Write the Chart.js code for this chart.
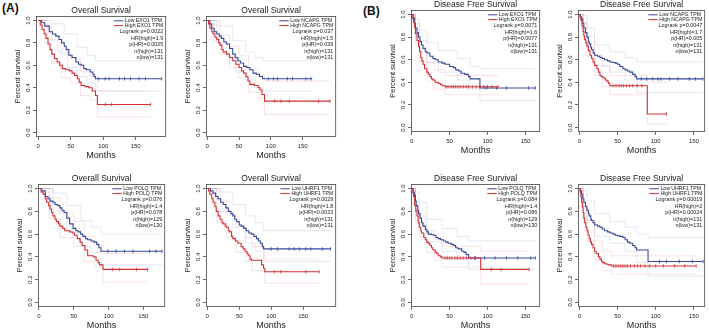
<!DOCTYPE html>
<html>
<head>
<meta charset="utf-8">
<script src="https://cdn.jsdelivr.net/npm/chart.js@4.4.1/dist/chart.umd.min.js"></script>
<style>
  body { margin: 0; width: 709px; height: 329px; background: #fff; position: relative; overflow: hidden; }
  canvas { position: absolute; }
  .tag { position: absolute; font: bold 12px "Liberation Sans", Arial, sans-serif; color: #111; }
</style>
</head>
<body>
<div class="tag" style="left:2px;top:1px">(A)</div>
<div class="tag" style="left:363px;top:4px">(B)</div>
<script>
// ---- axis ticks ----
const xTicks = [0, 50, 100, 150];
const xTickLabels = ['0', '50', '100', '150'];
const yTicks = [0, 0.2, 0.4, 0.6, 0.8, 1.0];
const yTickLabels = ['0.0', '0.2', '0.4', '0.6', '0.8', '1.0'];

// ---- (A) Overall survival, EXO1 ----
const exo1OsLow = [[0,1],[5,0.98],[10,0.95],[17,0.90],[22,0.88],[27,0.86],[32,0.83],[36,0.80],[40,0.77],[43,0.74],[47,0.69],[52,0.67],[58,0.63],[62,0.61],[66,0.60],[70,0.57],[74,0.56],[80,0.54],[84,0.52],[86,0.50],[88,0.48],[190,0.48]];
const exo1OsHigh = [[0,1],[3,0.96],[6,0.92],[9,0.88],[12,0.84],[15,0.79],[18,0.74],[21,0.70],[25,0.66],[29,0.63],[33,0.60],[37,0.57],[42,0.56],[48,0.55],[52,0.53],[56,0.51],[60,0.48],[63,0.45],[66,0.42],[72,0.41],[78,0.40],[83,0.37],[88,0.33],[91,0.25],[173,0.25]];
const exo1OsLowCens = [93,103,109,125,133,142,155,165,190];
const exo1OsHighCens = [103,113,173];
const exo1OsLowUp = [[0,1],[20,0.97],[40,0.88],[60,0.76],[75,0.69],[88,0.64],[190,0.64]];
const exo1OsLowDn = [[0,1],[15,0.82],[30,0.72],[45,0.58],[60,0.50],[75,0.44],[88,0.37],[190,0.37]];
const exo1OsHighUp = [[0,1],[10,0.96],[20,0.83],[35,0.70],[50,0.66],[65,0.54],[80,0.50],[91,0.37],[173,0.37]];
const exo1OsHighDn = [[0,1],[10,0.80],[20,0.62],[35,0.49],[50,0.44],[65,0.33],[80,0.29],[91,0.14],[173,0.14]];
const exo1OsLegend = ['Low EXO1 TPM', 'High EXO1 TPM'];
const exo1OsStats = ['Logrank p=0.0022', 'HR(high)=1.9', 'p(HR)=0.0025', 'n(high)=131', 'n(low)=131'];

// ---- (A) Overall survival, NCAPG ----
const ncapgOsLow = [[0,1],[4,0.97],[7,0.93],[11,0.90],[15,0.88],[19,0.86],[22,0.84],[26,0.81],[30,0.79],[35,0.75],[40,0.70],[44,0.67],[48,0.64],[52,0.62],[57,0.59],[62,0.58],[67,0.56],[72,0.53],[77,0.52],[82,0.50],[87,0.48],[165,0.48]];
const ncapgOsHigh = [[0,1],[2,0.97],[4,0.93],[7,0.90],[9,0.88],[12,0.85],[15,0.83],[18,0.80],[20,0.78],[23,0.74],[25,0.72],[30,0.70],[35,0.67],[40,0.64],[45,0.61],[50,0.58],[54,0.55],[57,0.53],[61,0.50],[64,0.46],[67,0.43],[74,0.42],[80,0.40],[83,0.38],[86,0.34],[90,0.28],[193,0.28]];
const ncapgOsLowCens = [96,104,110,126,134,155,163];
const ncapgOsHighCens = [106,116,129,175,193];
const ncapgOsLowUp = [[0,1],[20,0.95],[40,0.82],[60,0.72],[75,0.67],[88,0.64],[165,0.64]];
const ncapgOsLowDn = [[0,1],[15,0.80],[30,0.68],[45,0.54],[60,0.47],[75,0.40],[88,0.37],[165,0.37]];
const ncapgOsHighUp = [[0,1],[10,0.96],[20,0.87],[35,0.77],[50,0.69],[65,0.56],[80,0.51],[90,0.46],[193,0.46]];
const ncapgOsHighDn = [[0,1],[10,0.82],[20,0.70],[35,0.58],[50,0.49],[65,0.36],[80,0.31],[90,0.16],[193,0.16]];
const ncapgOsLegend = ['Low NCAPG TPM', 'High NCAPG TPM'];
const ncapgOsStats = ['Logrank p=0.037', 'HR(high)=1.5', 'p(HR)=0.039', 'n(high)=131', 'n(low)=131'];

// ---- (A) Overall survival, POLQ ----
const polqOsLow = [[0,1],[4,0.98],[9,0.93],[13,0.91],[16,0.89],[20,0.88],[23,0.86],[27,0.85],[30,0.83],[33,0.81],[36,0.79],[40,0.74],[44,0.69],[49,0.65],[53,0.63],[56,0.62],[60,0.60],[63,0.58],[67,0.56],[70,0.55],[75,0.54],[79,0.53],[83,0.51],[86,0.48],[89,0.45],[177,0.45]];
const polqOsHigh = [[0,1],[3,0.97],[6,0.95],[9,0.91],[11,0.88],[14,0.85],[16,0.82],[18,0.79],[20,0.76],[23,0.73],[25,0.71],[28,0.69],[30,0.67],[34,0.65],[37,0.63],[44,0.62],[48,0.61],[51,0.59],[55,0.56],[59,0.53],[62,0.50],[66,0.46],[70,0.41],[78,0.40],[82,0.37],[85,0.35],[87,0.33],[92,0.29],[156,0.29]];
const polqOsLowCens = [99,111,123,135,159,168,177];
const polqOsHighCens = [106,116,140,156];
const polqOsLowUp = [[0,1],[20,0.96],[40,0.85],[60,0.72],[75,0.66],[89,0.60],[177,0.60]];
const polqOsLowDn = [[0,1],[20,0.80],[40,0.64],[60,0.49],[75,0.44],[89,0.33],[177,0.33]];
const polqOsHighUp = [[0,1],[15,0.92],[30,0.78],[50,0.71],[65,0.58],[80,0.50],[92,0.43],[156,0.43]];
const polqOsHighDn = [[0,1],[15,0.74],[30,0.57],[50,0.49],[65,0.36],[80,0.31],[92,0.18],[156,0.18]];
const polqOsLegend = ['Low POLQ TPM', 'High POLQ TPM'];
const polqOsStats = ['Logrank p=0.076', 'HR(high)=1.4', 'p(HR)=0.078', 'n(high)=129', 'n(low)=130'];

// ---- (A) Overall survival, UHRF1 ----
const uhrf1OsLow = [[0,1],[5,0.98],[9,0.96],[13,0.93],[17,0.91],[21,0.88],[25,0.86],[29,0.83],[33,0.80],[37,0.78],[40,0.76],[43,0.73],[46,0.71],[50,0.68],[53,0.67],[57,0.65],[61,0.63],[65,0.61],[69,0.60],[73,0.58],[77,0.56],[80,0.54],[83,0.52],[86,0.49],[88,0.47],[193,0.47]];
const uhrf1OsHigh = [[0,1],[2,0.98],[4,0.95],[7,0.91],[9,0.88],[12,0.84],[14,0.80],[17,0.76],[20,0.73],[23,0.70],[25,0.69],[28,0.67],[30,0.66],[33,0.63],[35,0.62],[38,0.58],[40,0.56],[44,0.54],[48,0.52],[53,0.49],[56,0.47],[59,0.45],[62,0.43],[64,0.41],[67,0.38],[69,0.37],[82,0.37],[85,0.33],[88,0.30],[90,0.27],[175,0.27]];
const uhrf1OsLowCens = [100,110,128,136,144,154,162,180,193];
const uhrf1OsHighCens = [105,115,154,175];
const uhrf1OsLowUp = [[0,1],[20,0.97],[40,0.86],[60,0.76],[75,0.70],[88,0.63],[193,0.63]];
const uhrf1OsLowDn = [[0,1],[20,0.80],[40,0.66],[60,0.52],[75,0.45],[88,0.36],[193,0.36]];
const uhrf1OsHighUp = [[0,1],[15,0.90],[30,0.77],[45,0.67],[60,0.57],[70,0.49],[90,0.38],[175,0.38]];
const uhrf1OsHighDn = [[0,1],[15,0.71],[30,0.57],[45,0.44],[60,0.36],[70,0.28],[90,0.17],[175,0.17]];
const uhrf1OsLegend = ['Low UHRF1 TPM', 'High UHRF1 TPM'];
const uhrf1OsStats = ['Logrank p=0.0029', 'HR(high)=1.8', 'p(HR)=0.0033', 'n(high)=131', 'n(low)=131'];

// ---- (B) Disease free survival, EXO1 ----
const exo1DfsLow = [[0,1],[2,0.97],[3.5,0.92],[5,0.88],[7,0.84],[9,0.80],[11,0.76],[13,0.73],[15,0.70],[18,0.67],[20,0.66],[24,0.63],[28,0.61],[31,0.60],[35,0.58],[40,0.57],[44,0.56],[50,0.54],[55,0.53],[58,0.51],[62,0.50],[65,0.48],[70,0.47],[75,0.45],[77,0.43],[89,0.43],[90,0.35],[163,0.35]];
const exo1DfsHigh = [[0,1],[1.5,0.96],[2.6,0.93],[4,0.88],[5,0.83],[7,0.77],[9,0.72],[10.5,0.67],[12,0.62],[13.5,0.59],[15,0.56],[17,0.52],[20,0.49],[22,0.47],[24,0.45],[26,0.43],[28,0.42],[31,0.40],[35,0.39],[38,0.38],[40,0.37],[44,0.36],[114,0.36]];
const exo1DfsLowCens = [98,112,125,154,163];
const exo1DfsHighCens = [45,48,52,55,58,61,64,68,72,75,80,85,90,95,100,106,114];
const exo1DfsLowUp = [[0,1],[5,0.96],[10,0.86],[20,0.75],[35,0.68],[60,0.61],[77,0.54],[90,0.52],[163,0.52]];
const exo1DfsLowDn = [[0,1],[5,0.80],[10,0.67],[20,0.57],[35,0.49],[60,0.42],[77,0.34],[90,0.24],[163,0.24]];
const exo1DfsHighUp = [[0,1],[5,0.92],[10,0.77],[20,0.58],[30,0.51],[44,0.46],[114,0.46]];
const exo1DfsHighDn = [[0,1],[5,0.75],[10,0.58],[20,0.41],[30,0.34],[44,0.29],[114,0.29]];
const exo1DfsLegend = ['Low EXO1 TPM', 'High EXO1 TPM'];
const exo1DfsStats = ['Logrank p=0.0071', 'HR(high)=1.6', 'p(HR)=0.0077', 'n(high)=131', 'n(low)=131'];

// ---- (B) Disease free survival, NCAPG ----
const ncapgDfsLow = [[0,1],[1.5,0.98],[3,0.96],[4.5,0.92],[6,0.88],[8,0.84],[10,0.80],[12,0.76],[13,0.74],[15,0.71],[16,0.69],[18,0.66],[20,0.64],[24,0.63],[27,0.62],[30,0.61],[33,0.60],[37,0.59],[40,0.58],[44,0.575],[47,0.57],[50,0.56],[53,0.54],[57,0.52],[60,0.51],[63,0.50],[66,0.49],[70,0.47],[73,0.45],[75,0.43],[162,0.43]];
const ncapgDfsHigh = [[0,1],[1,0.97],[2,0.95],[3.5,0.90],[5,0.85],[6,0.81],[7,0.78],[8.5,0.75],[10,0.72],[12,0.68],[14,0.64],[16,0.61],[18,0.58],[20,0.55],[23,0.52],[25,0.49],[27,0.46],[29,0.45],[31,0.44],[34,0.42],[36,0.41],[38,0.39],[40,0.37],[88,0.37],[89,0.12],[114,0.12]];
const ncapgDfsLowCens = [81,88,96,103,107,118,129,144,152,162];
const ncapgDfsHighCens = [44,48,52,55,58,62,66,70,76,82,114];
const ncapgDfsLowUp = [[0,1],[5,0.99],[10,0.88],[20,0.73],[40,0.67],[60,0.62],[75,0.58],[162,0.58]];
const ncapgDfsLowDn = [[0,1],[5,0.84],[10,0.71],[20,0.55],[40,0.49],[60,0.42],[75,0.31],[162,0.31]];
const ncapgDfsHighUp = [[0,1],[5,0.93],[10,0.81],[20,0.64],[30,0.54],[40,0.46],[88,0.46],[89,0.40],[114,0.40]];
const ncapgDfsHighDn = [[0,1],[5,0.77],[10,0.63],[20,0.46],[30,0.36],[40,0.29],[88,0.29],[89,0.03],[114,0.03]];
const ncapgDfsLegend = ['Low NCAPG TPM', 'High NCAPG TPM'];
const ncapgDfsStats = ['Logrank p=0.0047', 'HR(high)=1.7', 'p(HR)=0.005', 'n(high)=131', 'n(low)=131'];

// ---- (B) Disease free survival, POLQ ----
const polqDfsLow = [[0,1],[2,0.97],[3.5,0.94],[5,0.89],[6,0.85],[8,0.81],[9,0.78],[11,0.74],[13,0.70],[15,0.67],[18,0.64],[20,0.62],[22,0.60],[26,0.595],[29,0.59],[32,0.57],[35,0.56],[38,0.55],[42,0.54],[45,0.53],[48,0.52],[52,0.51],[55,0.50],[58,0.48],[61,0.47],[66,0.45],[69,0.44],[72,0.42],[75,0.39],[163,0.39]];
const polqDfsHigh = [[0,1],[1.5,0.96],[2.6,0.93],[4,0.85],[5.5,0.80],[7,0.76],[8.5,0.70],[10,0.66],[12,0.63],[13,0.61],[16,0.57],[18,0.55],[20,0.53],[22,0.52],[24,0.50],[26,0.48],[28,0.46],[31,0.44],[33,0.43],[35,0.41],[38,0.40],[40,0.39],[90,0.39],[91,0.29],[155,0.29]];
const polqDfsLowCens = [83,96,110,125,140,157,163];
const polqDfsHighCens = [44,47,50,53,57,60,64,68,72,78,84,105,118,155];
const polqDfsLowUp = [[0,1],[5,0.97],[10,0.88],[20,0.73],[40,0.65],[60,0.58],[75,0.54],[163,0.54]];
const polqDfsLowDn = [[0,1],[5,0.80],[10,0.68],[20,0.53],[40,0.45],[60,0.38],[75,0.29],[163,0.29]];
const polqDfsHighUp = [[0,1],[5,0.90],[10,0.76],[20,0.63],[30,0.55],[40,0.49],[90,0.49],[91,0.45],[155,0.45]];
const polqDfsHighDn = [[0,1],[5,0.72],[10,0.57],[20,0.44],[30,0.37],[40,0.31],[90,0.31],[91,0.16],[155,0.16]];
const polqDfsLegend = ['Low POLQ TPM', 'High POLQ TPM'];
const polqDfsStats = ['Logrank p=0.084', 'HR(high)=1.4', 'p(HR)=0.086', 'n(high)=129', 'n(low)=130'];

// ---- (B) Disease free survival, UHRF1 ----
const uhrf1DfsLow = [[0,1],[1.5,0.98],[3,0.95],[4.5,0.91],[6,0.88],[8,0.84],[10,0.81],[12,0.78],[13,0.76],[15,0.73],[16,0.72],[18,0.70],[20,0.68],[24,0.67],[27,0.66],[30,0.645],[33,0.63],[37,0.62],[40,0.61],[44,0.60],[47,0.59],[50,0.585],[53,0.58],[57,0.57],[60,0.55],[63,0.53],[66,0.52],[70,0.50],[73,0.48],[75,0.46],[89,0.46],[90,0.36],[162,0.36]];
const uhrf1DfsHigh = [[0,1],[1,0.97],[2,0.93],[3,0.88],[4,0.84],[5,0.79],[6,0.74],[7,0.70],[8.5,0.66],[10,0.63],[11.5,0.59],[13,0.56],[14.5,0.53],[16,0.51],[18,0.48],[20,0.45],[22,0.43],[25,0.40],[27,0.38],[29,0.36],[31,0.35],[33,0.34],[36,0.335],[38,0.33],[42,0.32],[153,0.32]];
const uhrf1DfsLowCens = [105,114,131,148,162];
const uhrf1DfsHighCens = [45,48,51,54,57,60,63,67,72,76,80,86,92,100,110,125,138,153];
const uhrf1DfsLowUp = [[0,1],[5,0.98],[10,0.89],[20,0.78],[40,0.71],[60,0.66],[75,0.60],[90,0.57],[162,0.57]];
const uhrf1DfsLowDn = [[0,1],[5,0.84],[10,0.72],[20,0.58],[40,0.52],[60,0.45],[75,0.35],[90,0.23],[162,0.23]];
const uhrf1DfsHighUp = [[0,1],[5,0.88],[10,0.72],[20,0.54],[30,0.45],[42,0.41],[153,0.41]];
const uhrf1DfsHighDn = [[0,1],[5,0.70],[10,0.54],[20,0.37],[30,0.28],[42,0.25],[153,0.25]];
const uhrf1DfsLegend = ['Low UHRF1 TPM', 'High UHRF1 TPM'];
const uhrf1DfsStats = ['Logrank p=0.00019', 'HR(high)=2', 'p(HR)=0.00024', 'n(high)=131', 'n(low)=131'];

const FONT = '"Liberation Sans", Arial, sans-serif';
const BLUE = '#34499c';
const RED = '#d42f33';
const BLUE_CI = 'rgba(130,150,210,0.32)';
const RED_CI = 'rgba(240,120,130,0.32)';

// box = [left, top, right, bottom] of the plot frame on the page
const panels = [
  {id: 'a1', title: 'Overall Survival', low: exo1OsLow, high: exo1OsHigh, lowCens: exo1OsLowCens, highCens: exo1OsHighCens,
   ci: [exo1OsLowUp, exo1OsLowDn, exo1OsHighUp, exo1OsHighDn], legend: exo1OsLegend, stats: exo1OsStats, box: [36, 16, 167, 137], xr: [-3.5, 197]},
  {id: 'a2', title: 'Overall Survival', low: ncapgOsLow, high: ncapgOsHigh, lowCens: ncapgOsLowCens, highCens: ncapgOsHighCens,
   ci: [ncapgOsLowUp, ncapgOsLowDn, ncapgOsHighUp, ncapgOsHighDn], legend: ncapgOsLegend, stats: ncapgOsStats, box: [206, 16, 337, 137], xr: [-2, 202.7]},
  {id: 'b1', title: 'Disease Free Survival', low: exo1DfsLow, high: exo1DfsHigh, lowCens: exo1DfsLowCens, highCens: exo1DfsHighCens,
   ci: [exo1DfsLowUp, exo1DfsLowDn, exo1DfsHighUp, exo1DfsHighDn], legend: exo1DfsLegend, stats: exo1DfsStats, box: [411, 10, 541, 132], xr: [-0.9, 169.5]},
  {id: 'b2', title: 'Disease Free Survival', low: ncapgDfsLow, high: ncapgDfsHigh, lowCens: ncapgDfsLowCens, highCens: ncapgDfsHighCens,
   ci: [ncapgDfsLowUp, ncapgDfsLowDn, ncapgDfsHighUp, ncapgDfsHighDn], legend: ncapgDfsLegend, stats: ncapgDfsStats, box: [578, 10, 706, 132], xr: [-1.7, 164.8]},
  {id: 'a3', title: 'Overall Survival', low: polqOsLow, high: polqOsHigh, lowCens: polqOsLowCens, highCens: polqOsHighCens,
   ci: [polqOsLowUp, polqOsLowDn, polqOsHighUp, polqOsHighDn], legend: polqOsLegend, stats: polqOsStats, box: [38, 184, 166, 307], xr: [-1.4, 181.4]},
  {id: 'a4', title: 'Overall Survival', low: uhrf1OsLow, high: uhrf1OsHigh, lowCens: uhrf1OsLowCens, highCens: uhrf1OsHighCens,
   ci: [uhrf1OsLowUp, uhrf1OsLowDn, uhrf1OsHighUp, uhrf1OsHighDn], legend: uhrf1OsLegend, stats: uhrf1OsStats, box: [206, 184, 337, 307], xr: [-2, 201.7]},
  {id: 'b3', title: 'Disease Free Survival', low: polqDfsLow, high: polqDfsHigh, lowCens: polqDfsLowCens, highCens: polqDfsHighCens,
   ci: [polqDfsLowUp, polqDfsLowDn, polqDfsHighUp, polqDfsHighDn], legend: polqDfsLegend, stats: polqDfsStats, box: [411, 184, 541, 307], xr: [-0.9, 169.5]},
  {id: 'b4', title: 'Disease Free Survival', low: uhrf1DfsLow, high: uhrf1DfsHigh, lowCens: uhrf1DfsLowCens, highCens: uhrf1DfsHighCens,
   ci: [uhrf1DfsLowUp, uhrf1DfsLowDn, uhrf1DfsHighUp, uhrf1DfsHighDn], legend: uhrf1DfsLegend, stats: uhrf1DfsStats, box: [578, 184, 706, 307], xr: [-1.7, 164.8]}
];

const PAD_L = 36, PAD_T = 16, PAD_R = 4, PAD_B = 26;

// survival value of a step curve at time t
function stepAt(curve, t) {
  let y = curve[0][1];
  for (const [x, v] of curve) { if (x <= t) y = v; }
  return y;
}
const pts = a => a.map(([x, y]) => ({x, y}));

// frame, title and in-plot legend
const panelDecor = {
  id: 'panelDecor',
  afterDraw(chart, args, o) {
    const ctx = chart.ctx;
    const {left, right, top, bottom} = chart.chartArea;
    ctx.save();
    ctx.strokeStyle = '#444';
    ctx.lineWidth = 0.8;
    ctx.strokeRect(left + 0.5, top + 0.5, right - left - 1, bottom - top - 1);
    ctx.fillStyle = '#1a1a1a';
    ctx.textBaseline = 'middle';
    ctx.font = '8.5px ' + FONT;
    ctx.textAlign = 'center';
    ctx.fillText(o.title, (left + right) / 2, top - 5.2);

    ctx.font = '5.2px ' + FONT;
    const w = Math.max(...o.legend.map(s => ctx.measureText(s).width));
    const tx = right - 3 - w;
    [4.8, 9.6].forEach((dy, i) => {
      const y = top + dy;
      ctx.strokeStyle = i === 0 ? BLUE : RED;
      ctx.lineWidth = 1;
      ctx.beginPath(); ctx.moveTo(tx - 11, y); ctx.lineTo(tx - 1.5, y); ctx.stroke();
      ctx.textAlign = 'left';
      ctx.fillText(o.legend[i], tx, y);
    });
    ctx.font = '5.4px ' + FONT;
    ctx.textAlign = 'right';
    o.stats.forEach((s, i) => ctx.fillText(s, right - 3, top + 16 + i * 6.4));
    ctx.restore();
  }
};

function makeChart(p) {
  const [l, t, r, b] = p.box;
  const cv = document.createElement('canvas');
  cv.width = r - l + PAD_L + PAD_R;
  cv.height = b - t + PAD_T + PAD_B;
  cv.style.left = (l - PAD_L) + 'px';
  cv.style.top = (t - PAD_T) + 'px';
  document.body.appendChild(cv);

  const curve = (data, color) => ({data: pts(data), borderColor: color, borderWidth: 1.1, stepped: true, pointRadius: 0});
  const ciLine = (data, color) => ({data: pts(data), borderColor: color, borderWidth: 0.7, stepped: true, pointRadius: 0});
  const cens = (c, times, color) => ({data: times.map(x => ({x, y: stepAt(c, x)})), showLine: false,
    pointStyle: 'line', rotation: 90, pointRadius: 1.8, borderColor: color, borderWidth: 0.8});

  new Chart(cv, {
    type: 'line',
    data: {
      datasets: [
        cens(p.high, p.highCens, RED),
        curve(p.high, RED),
        cens(p.low, p.lowCens, BLUE),
        curve(p.low, BLUE),
        ciLine(p.ci[2], RED_CI),
        ciLine(p.ci[3], RED_CI),
        ciLine(p.ci[0], BLUE_CI),
        ciLine(p.ci[1], BLUE_CI)
      ]
    },
    options: {
      responsive: false,
      animation: false,
      devicePixelRatio: 1,
      layout: {padding: {left: 0, top: PAD_T, right: PAD_R, bottom: 0}},
      plugins: {
        legend: {display: false},
        tooltip: {enabled: false},
        panelDecor: {title: p.title, legend: p.legend, stats: p.stats}
      },
      scales: {
        x: {
          type: 'linear',
          min: p.xr[0],
          max: p.xr[1],
          afterBuildTicks: s => { s.ticks = xTicks.map(v => ({value: v})); },
          afterFit: s => { s.height = PAD_B; s.paddingLeft = 0; s.paddingRight = 0; },
          grid: {drawOnChartArea: false, tickLength: 3, color: '#444', lineWidth: 0.8},
          border: {display: false},
          ticks: {font: {size: 6, family: FONT}, color: '#222', padding: 2.6, maxRotation: 0,
                  callback: (v, i) => xTickLabels[i]},
          title: {display: true, text: 'Months', font: {size: 9, family: FONT}, color: '#1a1a1a', padding: {top: 0, bottom: 1.6}}
        },
        y: {
          min: -0.04,
          max: 1.04,
          afterBuildTicks: s => { s.ticks = yTicks.map(v => ({value: v})); },
          afterFit: s => { s.width = PAD_L; s.paddingTop = 0; s.paddingBottom = 0; },
          grid: {drawOnChartArea: false, tickLength: 3, color: '#444', lineWidth: 0.8},
          border: {display: false},
          ticks: {font: {size: 6, family: FONT}, color: '#222', padding: 0, minRotation: 90, maxRotation: 90,
                  crossAlign: 'center', callback: (v, i) => yTickLabels[i]},
          title: {display: true, text: 'Percent survival', font: {size: 7.5, family: FONT}, color: '#1a1a1a', padding: {top: 13.5, bottom: 0}}
        }
      }
    },
    plugins: [panelDecor]
  });
}

panels.forEach(makeChart);
</script>
</body>
</html>
